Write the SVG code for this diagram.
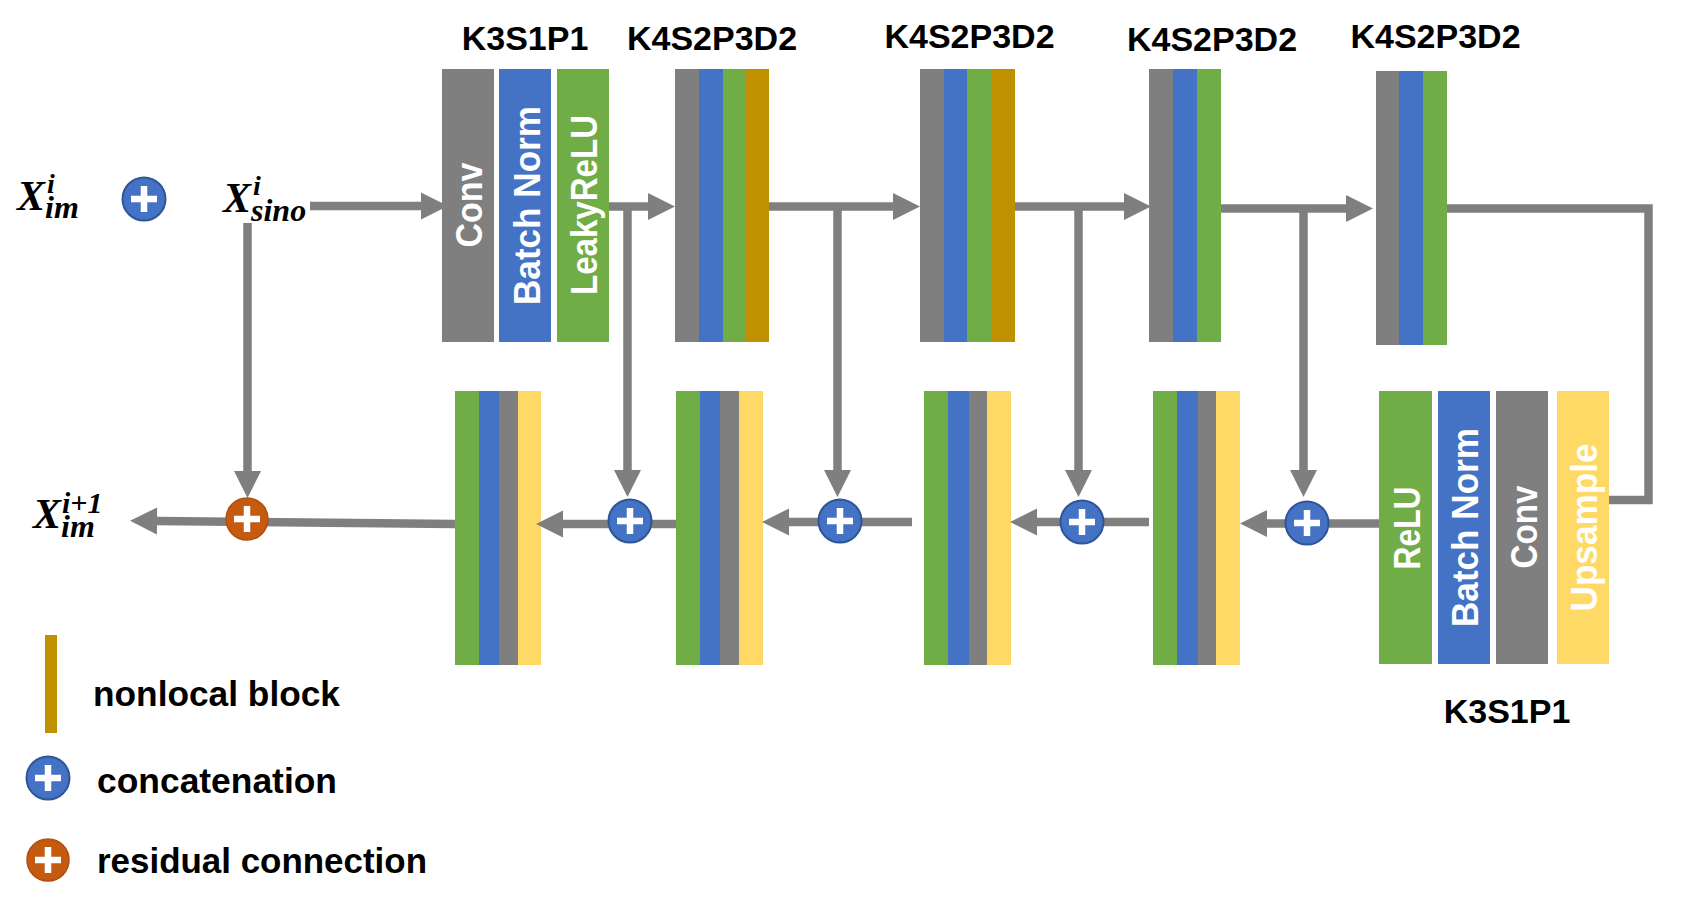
<svg xmlns="http://www.w3.org/2000/svg" xmlns:xlink="http://www.w3.org/1999/xlink" width="1707" height="920" viewBox="0 0 1707 920">
<defs>
<style>
.g{fill:#7F7F7F}.b{fill:#4472C4}.gr{fill:#70AD47}.go{fill:#BF9000}.y{fill:#FFD966}
.lbl{font-family:"Liberation Sans",Arial,sans-serif;font-weight:bold;font-size:34px;fill:#000;text-anchor:middle}
.rot{font-family:"Liberation Sans",Arial,sans-serif;font-weight:bold;font-size:36px;fill:#fff;text-anchor:middle}
.leg{font-family:"Liberation Sans",Arial,sans-serif;font-weight:bold;font-size:35px;fill:#000}
.math{font-family:"Liberation Serif","Times New Roman",serif;font-weight:bold;font-style:italic;fill:#000}
.conn{fill:none;stroke:#7F7F7F;stroke-width:8.5}
.arr{marker-end:url(#arrow)}
.cb{fill:#4472C4;stroke:#2F5597;stroke-width:2}
.co{fill:#C55A11;stroke:#B04F0E;stroke-width:1.5}
.plus{fill:none;stroke:#fff;stroke-width:6.5}
</style>
<marker id="arrow" markerUnits="userSpaceOnUse" markerWidth="27" markerHeight="28" refX="0" refY="14" orient="auto" viewBox="0 0 27 28" overflow="visible">
<path d="M0,0.5 L27,14 L0,27.5 Z" fill="#7F7F7F"/>
</marker>
<g id="cat"><circle r="21.5" class="cb"/><path class="plus" d="M-13,0H13M0,-13V13"/></g>
<g id="res"><circle r="21" class="co"/><path class="plus" d="M-13,0H13M0,-13V13"/></g>
</defs>
<rect width="1707" height="920" fill="#fff"/>

<!-- labels -->
<g id="labels">
<text class="lbl" x="525" y="50">K3S1P1</text>
<text class="lbl" x="712" y="50">K4S2P3D2</text>
<text class="lbl" x="969.5" y="48">K4S2P3D2</text>
<text class="lbl" x="1212" y="51">K4S2P3D2</text>
<text class="lbl" x="1435.5" y="48">K4S2P3D2</text>
<text class="lbl" x="1507" y="723">K3S1P1</text>
</g>

<!-- math labels -->
<g id="x-im">
<text class="math"><tspan x="17" y="210" font-size="42">X</tspan><tspan x="47" y="193" font-size="28">i</tspan><tspan x="45" y="218" font-size="32">im</tspan></text>
</g>
<g id="x-sino">
<text class="math"><tspan x="223" y="212" font-size="42">X</tspan><tspan x="253" y="195" font-size="28">i</tspan><tspan x="251" y="221" font-size="32">sino</tspan></text>
</g>
<g id="x-im-next">
<text class="math"><tspan x="33" y="528" font-size="42">X</tspan><tspan x="62" y="513" font-size="30">i+1</tspan><tspan x="61" y="537" font-size="32">im</tspan></text>
</g>

<!-- encoder blocks -->
<g id="enc1">
<rect class="g" x="442" y="69" width="52" height="273"/>
<rect class="b" x="499" y="69" width="52" height="273"/>
<rect class="gr" x="557" y="69" width="52" height="273"/>
<text class="rot" transform="translate(482,205) rotate(-90)" textLength="85" lengthAdjust="spacingAndGlyphs">Conv</text>
<text class="rot" transform="translate(540,205.5) rotate(-90)" textLength="199" lengthAdjust="spacingAndGlyphs">Batch Norm</text>
<text class="rot" transform="translate(597,205) rotate(-90)" textLength="180" lengthAdjust="spacingAndGlyphs">LeakyReLU</text>
</g>
<g id="enc2">
<rect class="g" x="675" y="69" width="24" height="273"/>
<rect class="b" x="699" y="69" width="24" height="273"/>
<rect class="gr" x="723" y="69" width="23" height="273"/>
<rect class="go" x="746" y="69" width="23" height="273"/>
</g>
<g id="enc3">
<rect class="g" x="920" y="69" width="24" height="273"/>
<rect class="b" x="944" y="69" width="23" height="273"/>
<rect class="gr" x="967" y="69" width="24" height="273"/>
<rect class="go" x="991" y="69" width="24" height="273"/>
</g>
<g id="enc4">
<rect class="g" x="1149" y="69" width="24" height="273"/>
<rect class="b" x="1173" y="69" width="24" height="273"/>
<rect class="gr" x="1197" y="69" width="24" height="273"/>
</g>
<g id="enc5">
<rect class="g" x="1376" y="71" width="23" height="274"/>
<rect class="b" x="1399" y="71" width="24" height="274"/>
<rect class="gr" x="1423" y="71" width="24" height="274"/>
</g>

<!-- decoder blocks -->
<g id="dec1">
<rect class="gr" x="455" y="391" width="24" height="274"/>
<rect class="b" x="479" y="391" width="20" height="274"/>
<rect class="g" x="499" y="391" width="19" height="274"/>
<rect class="y" x="518" y="391" width="23" height="274"/>
</g>
<g id="dec2">
<rect class="gr" x="676" y="391" width="24" height="274"/>
<rect class="b" x="700" y="391" width="20" height="274"/>
<rect class="g" x="720" y="391" width="19" height="274"/>
<rect class="y" x="739" y="391" width="24" height="274"/>
</g>
<g id="dec3">
<rect class="gr" x="924" y="391" width="24" height="274"/>
<rect class="b" x="948" y="391" width="21" height="274"/>
<rect class="g" x="969" y="391" width="18" height="274"/>
<rect class="y" x="987" y="391" width="24" height="274"/>
</g>
<g id="dec4">
<rect class="gr" x="1153" y="391" width="24" height="274"/>
<rect class="b" x="1177" y="391" width="21" height="274"/>
<rect class="g" x="1198" y="391" width="18" height="274"/>
<rect class="y" x="1216" y="391" width="24" height="274"/>
</g>
<g id="dec5">
<rect class="gr" x="1379" y="391" width="53" height="273"/>
<rect class="b" x="1438" y="391" width="52" height="273"/>
<rect class="g" x="1496" y="391" width="52" height="273"/>
<rect class="y" x="1557" y="391" width="52" height="273"/>
<text class="rot" transform="translate(1420,528) rotate(-90)" textLength="83" lengthAdjust="spacingAndGlyphs">ReLU</text>
<text class="rot" transform="translate(1478,527.5) rotate(-90)" textLength="199" lengthAdjust="spacingAndGlyphs">Batch Norm</text>
<text class="rot" transform="translate(1537,527) rotate(-90)" textLength="83" lengthAdjust="spacingAndGlyphs">Conv</text>
<text class="rot" transform="translate(1597,527.5) rotate(-90)" textLength="168" lengthAdjust="spacingAndGlyphs">Upsample</text>
</g>

<!-- connectors -->
<g id="connectors">
<path class="conn arr" d="M310,206H421"/>
<path class="conn arr" d="M609,206.5H648"/>
<path class="conn arr" d="M769,206.5H893"/>
<path class="conn arr" d="M1015,206.5H1124"/>
<path class="conn arr" d="M1221,208.5H1346"/>
<path class="conn" stroke-linejoin="miter" d="M1447,208.5H1648.5V500H1609"/>
<path class="conn arr" d="M247.5,223V471"/>
<path class="conn arr" d="M627.5,206V470"/>
<path class="conn arr" d="M837.5,206V470"/>
<path class="conn arr" d="M1078.5,206V470"/>
<path class="conn arr" d="M1303.5,208V470"/>
<path class="conn arr" d="M1379,523.5H1267"/>
<path class="conn arr" d="M1149,522H1037"/>
<path class="conn arr" d="M912,522H789"/>
<path class="conn arr" d="M676,524H563"/>
<path class="conn arr" d="M455,524L157,521"/>
</g>

<!-- operators -->
<g id="op-top"><use xlink:href="#cat" href="#cat" x="144" y="199"/></g>
<g id="op-res"><use xlink:href="#res" href="#res" x="247" y="519"/></g>
<g id="op-cat1"><use xlink:href="#cat" href="#cat" x="630" y="521"/></g>
<g id="op-cat2"><use xlink:href="#cat" href="#cat" x="840" y="521"/></g>
<g id="op-cat3"><use xlink:href="#cat" href="#cat" x="1082" y="522"/></g>
<g id="op-cat4"><use xlink:href="#cat" href="#cat" x="1307" y="523"/></g>

<!-- legend -->
<g id="legend">
<rect class="go" x="45" y="635" width="12" height="98"/>
<text class="leg" x="93" y="706" textLength="247" lengthAdjust="spacingAndGlyphs">nonlocal block</text>
<use xlink:href="#cat" href="#cat" x="48" y="778"/>
<text class="leg" x="97" y="793" textLength="240" lengthAdjust="spacingAndGlyphs">concatenation</text>
<use xlink:href="#res" href="#res" x="48" y="860"/>
<text class="leg" x="97" y="873" textLength="330" lengthAdjust="spacingAndGlyphs">residual connection</text>
</g>
</svg>
